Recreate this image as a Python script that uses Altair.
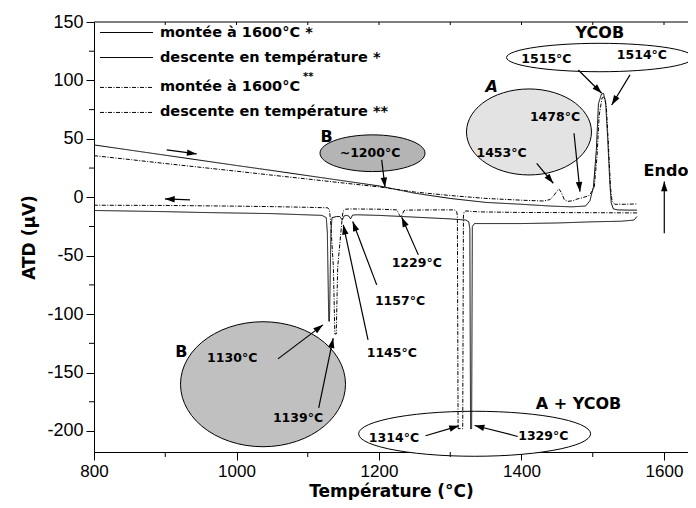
import math
import altair as alt
import pandas as pd

# ---------------- curve data ----------------
# montée à 1600°C *  (solid, heating)
T_m1 = [800, 850, 900, 950, 1000, 1050, 1100, 1150, 1200, 1250, 1300, 1350, 1400, 1440, 1470,
        1490, 1496, 1501, 1505, 1508, 1512, 1515, 1518, 1521, 1524, 1526, 1529, 1535, 1550, 1562]
V_m1 = [44.8, 40.4, 36.0, 31.6, 27.2, 22.9, 18.5, 14.1, 9.7, 3.5, -1.0, -4.4, -6.0, -7.5, -8.2,
        -7.5, -3.0, 9.0, 40.0, 80.0, 88.0, 89.0, 82.0, 50.0, 12.0, -5.0, -10.0, -10.8, -11.0, -11.0]

# montée à 1600°C ** (dash-dot, heating)
T_m2 = [800, 850, 900, 950, 1000, 1050, 1100, 1150, 1200, 1250, 1300, 1350, 1400, 1430, 1440,
        1446, 1450, 1453, 1456, 1460, 1465, 1472, 1478, 1485, 1495, 1502, 1506, 1509, 1513, 1516,
        1519, 1522, 1525, 1527, 1531, 1545, 1562]
V_m2 = [35.6, 32.3, 28.9, 25.6, 22.3, 18.9, 15.6, 12.2, 8.9, 4.5, 1.5, -1.0, -2.5, -3.2, -2.0,
        2.0, 5.5, 6.8, 4.0, -2.0, -3.5, -3.0, -1.5, -0.5, 1.5, 8.0, 35.0, 70.0, 85.0, 86.0,
        78.0, 45.0, 8.0, -3.0, -6.0, -6.0, -5.7]

# descente en température * (solid, cooling)
T_d1 = [1562, 1558, 1540, 1500, 1450, 1400, 1350, 1334, 1331, 1330, 1328.5, 1327.5, 1326, 1322,
        1300, 1250, 1200, 1170, 1163, 1160, 1157.5, 1154, 1151, 1148.5, 1145, 1140, 1134, 1132.5,
        1130.5, 1129.5, 1127.5, 1126, 1120, 1050, 1000, 950, 900, 850, 800]
V_d1 = [-16.5, -19.5, -20.5, -21, -22, -22.5, -22.5, -22.5, -25, -198, -198, -27, -21, -19.5,
        -18.5, -17, -15.5, -15, -15.2, -18.5, -16, -15.5, -16, -19.5, -16.5, -16.5, -17.5, -30,
        -106, -106, -30, -17.5, -15.5, -14, -13.5, -13, -12.3, -11.8, -11.3]

# descente en température ** (dash-dot, cooling)
T_d2 = [1562, 1500, 1400, 1340, 1322, 1319.5, 1318.5, 1317.5, 1311, 1310, 1309, 1306, 1280, 1240,
        1235, 1232.5, 1230.5, 1228, 1225, 1200, 1160, 1153, 1149.5, 1148, 1142, 1140, 1138, 1136,
        1132, 1130.5, 1128, 1100, 1050, 1000, 950, 900, 850, 800]
V_d2 = [-13.4, -13.2, -13, -12.5, -11.7, -12.5, -16, -198, -198, -16, -12, -10.8, -10.8, -11,
        -11.5, -15, -16.8, -14.5, -10.8, -10.2, -10, -10.2, -12, -20, -60, -117, -117, -60,
        -20, -11, -9, -8.6, -8, -7.6, -7.3, -7, -6.9, -6.8]

series_names = ["montée à 1600°C *", "descente en température *",
                "montée à 1600°C **", "descente en température **"]
series_dash = [[1, 0], [1, 0], [4, 1.5, 1, 1.5], [4, 1.5, 1, 1.5]]

# legend (inside plot, upper left)
leg_text = ["montée à 1600°C *", "descente en température *", "montée à 1600°C",
            "descente en température **"]
leg_V = [141.0, 119.6, 94.0, 72.6]
leg_T_line = [808.4, 882.8]
leg_T_text = 892.6
sup_text = ["**"]
sup_T = [1093.3]
sup_V = [103.0]

# numeric annotations
num_text = ["1515°C", "1514°C", "1478°C", "1453°C", "~1200°C", "1229°C", "1157°C", "1145°C",
            "1130°C", "1139°C", "1314°C", "1329°C"]
num_T = [1435, 1569, 1447, 1372, 1187.4, 1253, 1229.5, 1218, 994, 1086.3, 1221, 1430.6]
num_V = [118, 121.8, 69, 37.7, 37.7, -55.9, -88.7, -132.9, -137.7, -189, -206.1, -204.1]

# big letter labels
big_text = ["YCOB", "B", "Endo", "B", "A + YCOB"]
big_T = [1510, 1126.6, 1602.8, 922.5, 1480]
big_V = [140.3, 51.4, 22.8, -132, -176.8]
ita_text = ["A"]
ita_T = [1358]
ita_V = [94.1]

# ellipses
ell_T = [1510, 1410.5, 1190.9, 1037.2, 1334.2]
ell_V = [119.6, 55.9, 37.7, -160, -202.4]
ell_W = [186.7, 125, 105, 165, 232]
ell_H = [28.4, 86, 36.7, 125, 45]
ell_fill = ["white", "#e3e3e3", "#b4b4b4", "#c0c0c0", "white"]

# arrows (start -> tip)
arr_T1 = [902, 934.7, 1203.8, 1421.3, 1473.7, 1479.7, 1552.3, 1255.2, 1196.8, 1184.6, 1058.2,
          1115.4, 1265.3, 1394.8, 1600.4]
arr_V1 = [40.5, -2.3, 32.0, 29.1, 54.8, 108.9, 104.7, -49.3, -75, -122, -138.3, -180.2, -204.1,
          -204.7, -30.7]
arr_T2 = [944.1, 899.6, 1208.4, 1444.6, 1482.1, 1512.6, 1526.6, 1231.9, 1163.1, 1149.9, 1121.4,
          1135.7, 1312.3, 1334.2, 1600.4]
arr_V2 = [37.1, -1.4, 8.6, 12.0, 4.8, 89.0, 79.0, -17.1, -20.8, -23.6, -109.2, -120.6, -195.6,
          -195.3, 13.4]

x_ticks = [800, 1000, 1200, 1400, 1600]
x_minor = [900, 1100, 1300, 1500]
x_top = [900, 1000, 1100, 1200, 1300, 1400, 1500, 1600]
y_ticks = [-200, -150, -100, -50, 0, 50, 100, 150]
y_minor = [-175, -125, -75, -25, 25, 75, 125]

# ---------------- layout ----------------
W, H = 594, 430
X_MIN = 800
X_MAX = 800 + W * 800 / 570
Y_MIN, Y_MAX = -218, 150
FONT = "DejaVu Sans"

xs = alt.Scale(domain=[X_MIN, X_MAX], nice=False, zero=False)
ys = alt.Scale(domain=[Y_MIN, Y_MAX], nice=False, zero=False)

xaxis = alt.Axis(values=x_ticks, tickSize=8, labelFont="Liberation Sans", labelFontSize=17,
                 labelColor="black", tickColor="black", domainColor="black", labelPadding=3,
                 labelFlush=False, labelOverlap=False, grid=False,
                 labelExpr="'' + datum.value",
                 titleFont=FONT, titleFontSize=17, titleFontWeight="bold", titleColor="black",
                 titleY=44, titleBaseline="alphabetic")
yaxis = alt.Axis(values=y_ticks, tickSize=8, labelFont="Liberation Sans", labelFontSize=18,
                 labelColor="black", tickColor="black", domainColor="black", labelPadding=3,
                 labelFlush=False, labelOverlap=False, grid=False,
                 labelExpr="'' + datum.value",
                 titleFont=FONT, titleFontSize=17, titleFontWeight="bold", titleColor="black",
                 titlePadding=8)


def X(field):
    return alt.X(field, type="quantitative", scale=xs, axis=xaxis, title="Température (°C)")


def Y(field):
    return alt.Y(field, type="quantitative", scale=ys, axis=yaxis, title="ATD (µV)")


dash = alt.StrokeDash("serie:N", scale=alt.Scale(domain=series_names, range=series_dash),
                      legend=None)

rows = []
for name, TT, VV in [(series_names[0], T_m1, V_m1), (series_names[1], T_d1, V_d1),
                     (series_names[2], T_m2, V_m2), (series_names[3], T_d2, V_d2)]:
    for i, (t, v) in enumerate(zip(TT, VV)):
        rows.append({"serie": name, "T": t, "V": v, "i": i})
curves = pd.DataFrame(rows)

lines = alt.Chart(curves).mark_line(color="black", strokeWidth=1).encode(
    x=X("T"), y=Y("V"), order="i:Q", detail="serie:N", strokeDash=dash)


# ellipses as custom symbol paths
def ell_path(r, n=60):
    pts = []
    for k in range(n):
        a = 2 * math.pi * k / n
        pts.append(f"{math.cos(a):.4f} {r * math.sin(a):.4f}")
    return "M " + " L ".join(pts) + " Z"


ell_df = pd.DataFrame({
    "T": ell_T, "V": ell_V,
    "path": [ell_path(h / w) for w, h in zip(ell_W, ell_H)],
    "size": [w * w for w in ell_W],
    "fill": ell_fill,
})
ellipses = alt.Chart(ell_df).mark_point(filled=True, stroke="black", strokeWidth=1,
                                        opacity=1, strokeOpacity=1).encode(
    x=X("T"), y=Y("V"),
    shape=alt.Shape("path:N", scale=None),
    size=alt.Size("size:Q", scale=None),
    fill=alt.Fill("fill:N", scale=None))

# arrows
kx = W / (X_MAX - X_MIN)
ky = H / (Y_MAX - Y_MIN)
angs = []
for t1, v1, t2, v2 in zip(arr_T1, arr_V1, arr_T2, arr_V2):
    dx = (t2 - t1) * kx
    dy = -(v2 - v1) * ky
    angs.append((math.degrees(math.atan2(dx, -dy)) + 360) % 360)
arr_df = pd.DataFrame({"T": arr_T1, "V": arr_V1, "T2": arr_T2, "V2": arr_V2, "ang": angs})

shafts = alt.Chart(arr_df).mark_rule(color="black", strokeWidth=1.2).encode(
    x=X("T"), y=Y("V"), x2="T2:Q", y2="V2:Q")
heads = alt.Chart(arr_df).mark_point(
    shape="M 0 0 L 0.33 1 L -0.33 1 Z", filled=True, color="black", opacity=1, size=380
).encode(x=X("T2"), y=Y("V2"), angle=alt.Angle("ang:Q", scale=None))

# legend
leg_df = pd.DataFrame({"serie": series_names, "V": leg_V,
                       "T": [leg_T_line[0]] * 4, "T2": [leg_T_line[1]] * 4,
                       "txt": leg_text, "Tt": [leg_T_text] * 4})
leg_lines = alt.Chart(leg_df).mark_rule(color="black", strokeWidth=1).encode(
    x=X("T"), x2="T2:Q", y=Y("V"), strokeDash=dash)
leg_texts = alt.Chart(leg_df).mark_text(align="left", baseline="middle", font=FONT,
                                        fontSize=14.5, fontWeight="bold", color="black").encode(
    x=X("Tt"), y=Y("V"), text="txt:N")
sup = alt.Chart(pd.DataFrame({"T": sup_T, "V": sup_V, "txt": sup_text})).mark_text(
    align="left", baseline="middle", font=FONT, fontSize=10, fontWeight="bold",
    color="black").encode(x=X("T"), y=Y("V"), text="txt:N")

nums = alt.Chart(pd.DataFrame({"T": num_T, "V": num_V, "txt": num_text})).mark_text(
    align="center", baseline="middle", font=FONT, fontSize=12.5, fontWeight="bold",
    color="black").encode(x=X("T"), y=Y("V"), text="txt:N")
bigs = alt.Chart(pd.DataFrame({"T": big_T, "V": big_V, "txt": big_text})).mark_text(
    align="center", baseline="middle", font=FONT, fontSize=16, fontWeight="bold",
    color="black").encode(x=X("T"), y=Y("V"), text="txt:N")
itas = alt.Chart(pd.DataFrame({"T": ita_T, "V": ita_V, "txt": ita_text})).mark_text(
    align="center", baseline="middle", font=FONT, fontSize=16, fontWeight="bold",
    fontStyle="italic", color="black").encode(x=X("T"), y=Y("V"), text="txt:N")

# minor ticks, top frame and its ticks
xminor = alt.Chart(pd.DataFrame({"T": x_minor})).mark_rule(color="black").encode(
    x=X("T"), y=alt.value(H), y2=alt.value(H + 5))
yminor = alt.Chart(pd.DataFrame({"V": y_minor})).mark_rule(color="black").encode(
    y=Y("V"), x=alt.value(0), x2=alt.value(-5))
topframe = alt.Chart(pd.DataFrame({"a": [0]})).mark_rule(color="black").encode(
    x=alt.value(0), x2=alt.value(W), y=alt.value(0))
topticks = alt.Chart(pd.DataFrame({"T": x_top})).mark_rule(color="black").encode(
    x=X("T"), y=alt.value(0), y2=alt.value(3))

chart = alt.layer(
    ellipses, lines, shafts, heads, leg_lines, leg_texts, sup, nums, bigs, itas,
    xminor, yminor, topframe, topticks
).properties(
    width=W, height=H,
    background="white",
    autosize=alt.AutoSizeParams(type="none"),
    padding={"left": 86, "top": 14, "right": 0, "bottom": 48},
).configure_view(stroke=None)

chart.save("out.html", embed_options={"renderer": "svg", "actions": False})
